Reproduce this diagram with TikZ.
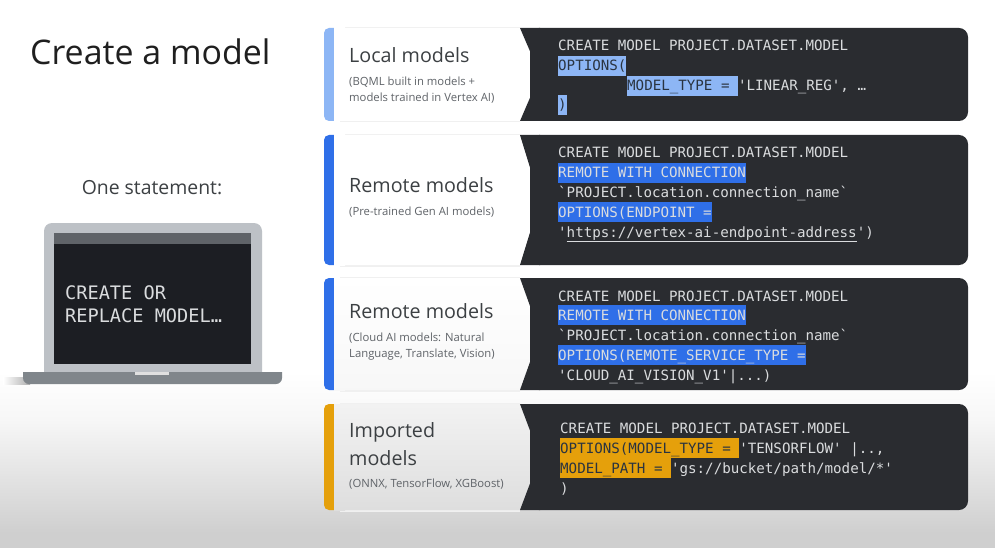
\documentclass[tikz,border=0pt]{standalone}
\usepackage{fontspec}
\setmainfont{Open Sans}
\setmonofont{DejaVu Sans Mono}
\usepackage{xcolor}
\usetikzlibrary{positioning}
\definecolor{panelDark}{HTML}{2A2C30}
\definecolor{screenDark}{HTML}{1C1E23}
\definecolor{codeText}{HTML}{DADCDE}
\definecolor{hlLight}{HTML}{8DB6F5}
\definecolor{hlBlue}{HTML}{2F6FE8}
\definecolor{hlOrange}{HTML}{E5A00B}
\definecolor{hlInk}{HTML}{2A3440}
\definecolor{labelGrey}{HTML}{3C4043}
\definecolor{subGrey}{HTML}{5F6368}
\definecolor{lidGrey}{HTML}{BDC1C6}
\definecolor{baseGrey}{HTML}{80868B}
\pgfdeclareverticalshading{pagefade}{100bp}{
    color(0bp)=(black!19); color(29bp)=(black!19); color(45bp)=(black!11);
    color(62bp)=(black!3); color(75bp)=(white); color(100bp)=(white)}
\newcommand{\codehl}[3]{{\fboxsep=0pt\colorbox{#1}{\rule[-5pt]{0pt}{19.6pt}\textcolor{#2}{#3}}}}
\tikzset{
    codeline/.style={anchor=base west,inner sep=0pt,text=codeText,font=\ttfamily\fontsize{14.17}{16}\selectfont},
    cardtitle/.style={anchor=base west,inner sep=0pt,text=labelGrey,font=\fontsize{19.7}{22}\selectfont},
    cardsub/.style={anchor=base west,inner sep=0pt,text=subGrey,font=\fontsize{11.3}{13}\selectfont},
    laptopline/.style={anchor=base west,inner sep=0pt,text=codeText,font=\ttfamily\fontsize{18.6}{22}\selectfont}
}
% one row: top, bottom, accent colour, card colours top and bottom
\newcommand{\modelrow}[5]{
    \fill[black!6] (340,{#1-1}) rectangle (520,{#2+1.5});
    \shade[top color=#4,bottom color=#5] (334,#1) -- (520,#1) -- (540,{(#1+#2)/2}) -- (520,#2) -- (334,#2) -- cycle;
    \fill[#3,rounded corners=5pt] (324,#1) rectangle (340,#2);
    \shade[top color=#4,bottom color=#5] (334,#1) rectangle (345,#2);
    \fill[panelDark,rounded corners=9pt] (530,#1) rectangle (968,#2);
    \fill[panelDark] (520,#1) -- (540,#1) -- (540,#2) -- (520,#2) -- (540,{(#1+#2)/2}) -- cycle;
}
\begin{document}
\begin{tikzpicture}[x=1pt,y=-1pt]
    \useasboundingbox (0,0) rectangle (995,548);
    \fill[white] (0,0) rectangle (995,548);
    \shade[shading=pagefade] (0,372) rectangle (995,548);

    \node[anchor=base west,inner sep=0pt,text=black!88,font=\fontsize{33.9}{38}\selectfont] (pagetitle) at (30,65) {Create a model};
    \node[anchor=base,inner sep=0pt,text=labelGrey,font=\fontsize{19.4}{22}\selectfont] (onestatement) at (152,194) {One statement:};

    % laptop
    \shade[left color=white,right color=black!32] (3,377) rectangle (30,384);
    \fill[lidGrey,rounded corners=8pt] (44,223) rectangle (262,380);
    \fill[screenDark] (54,233) rectangle (251,364);
    \fill[subGrey] (54,233) rectangle (251,244);
    \fill[baseGrey] (23,372) -- (282,372) [rounded corners=6pt] -- (282,384) -- (23,384) [sharp corners] -- (23,372) -- cycle;
    \fill[black!12] (135,372) rectangle (169,375);
    \node[laptopline] (laptopa) at (65,299) {CREATE OR};
    \node[laptopline] (laptopb) at (65,322) {REPLACE MODEL…};

    \modelrow{28}{121}{hlLight}{white}{white}
    \modelrow{135}{265}{hlBlue}{white}{white}
    \modelrow{278}{390}{hlBlue}{white}{black!3}
    \modelrow{404}{510}{hlOrange}{black!5}{black!13}

    % local models
    \node[cardtitle] (localtitle) at (349,63) {Local models};
    \node[cardsub] (localsuba) at (349,86) {(BQML built in models +};
    \node[cardsub] (localsubb) at (349,102) {models trained in Vertex AI)};
    \node[codeline] (localcodea) at (558,51) {CREATE MODEL PROJECT.DATASET.MODEL};
    \node[codeline] (localcodeb) at (558,71) {\codehl{hlLight}{hlInk}{OPTIONS(}};
    \node[codeline] (localcodec) at (627,91) {\codehl{hlLight}{hlInk}{MODEL\_TYPE = }'LINEAR\_REG', …};
    \node[codeline] (localcoded) at (558,110) {\codehl{hlLight}{hlInk}{)}};

    % remote models, pre-trained
    \node[cardtitle] (genaititle) at (349,193) {Remote models};
    \node[cardsub] (genaisub) at (349,215) {(Pre-trained Gen AI models)};
    \node[codeline] (genaicodea) at (558,158) {CREATE MODEL PROJECT.DATASET.MODEL};
    \node[codeline] (genaicodeb) at (558,178) {\codehl{hlBlue}{codeText}{REMOTE WITH CONNECTION}};
    \node[codeline] (genaicodec) at (558,197) {`PROJECT.location.connection\_name`};
    \node[codeline] (genaicoded) at (558,217) {\codehl{hlBlue}{codeText}{OPTIONS(ENDPOINT =}};
    \node[codeline] (genaicodee) at (558,237) {'\underline{https://vertex-ai-endpoint-address}')};

    % remote models, cloud ai
    \node[cardtitle] (cloudtitle) at (349,318) {Remote models};
    \node[cardsub] (cloudsuba) at (349,341) {(Cloud AI models: Natural};
    \node[cardsub] (cloudsubb) at (349,357) {Language, Translate, Vision)};
    \node[codeline] (cloudcodea) at (558,301) {CREATE MODEL PROJECT.DATASET.MODEL};
    \node[codeline] (cloudcodeb) at (558,320) {\codehl{hlBlue}{codeText}{REMOTE WITH CONNECTION}};
    \node[codeline] (cloudcodec) at (558,340) {`PROJECT.location.connection\_name`};
    \node[codeline] (cloudcoded) at (558,360) {\codehl{hlBlue}{codeText}{OPTIONS(REMOTE\_SERVICE\_TYPE =}};
    \node[codeline] (cloudcodee) at (558,380) {'CLOUD\_AI\_VISION\_V1'|...)};

    % imported models
    \node[cardtitle] (importtitlea) at (349,437) {Imported};
    \node[cardtitle] (importtitleb) at (349,465) {models};
    \node[cardsub] (importsub) at (349,487) {(ONNX, TensorFlow, XGBoost)};
    \node[codeline] (importcodea) at (560,433) {CREATE MODEL PROJECT.DATASET.MODEL};
    \node[codeline] (importcodeb) at (560,453) {\codehl{hlOrange}{hlInk}{OPTIONS(MODEL\_TYPE = }'TENSORFLOW' |..,};
    \node[codeline] (importcodec) at (560,473) {\codehl{hlOrange}{hlInk}{MODEL\_PATH = }'gs://bucket/path/model/*'};
    \node[codeline] (importcoded) at (560,493) {)};
\end{tikzpicture}
\end{document}
